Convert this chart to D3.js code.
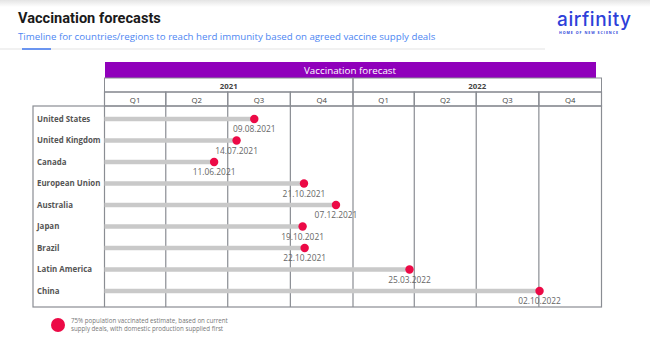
<!DOCTYPE html>
<html>
<head>
<meta charset="utf-8">
<script src="https://cdn.jsdelivr.net/npm/d3@7"></script>
<style>
  body { margin: 0; background: #fff; }
  svg { display: block; }
</style>
</head>
<body>
<div id="chart"></div>
<script>
const countries = ["United States", "United Kingdom", "Canada", "European Union",
  "Australia", "Japan", "Brazil", "Latin America", "China"];
const herdDates = ["09.08.2021", "14.07.2021", "11.06.2021", "21.10.2021",
  "07.12.2021", "19.10.2021", "22.10.2021", "25.03.2022", "02.10.2022"];
const years = ["2021", "2022"];
const quarters = ["Q1", "Q2", "Q3", "Q4"];

const W = 650, H = 343;
const parse = d3.timeParse("%d.%m.%Y");

const svg = d3.select("#chart").append("svg")
    .attr("width", W)
    .attr("height", H);

// top shadow
const defs = svg.append("defs");
const grad = defs.append("linearGradient").attr("id", "shade")
    .attr("x1", 0).attr("y1", 0).attr("x2", 0).attr("y2", 1);
grad.append("stop").attr("offset", 0).attr("stop-color", "#e4e4e4");
grad.append("stop").attr("offset", 1).attr("stop-color", "#fff");
svg.append("rect").attr("width", W).attr("height", 7).attr("fill", "url(#shade)");

// header
svg.append("text")
    .attr("x", 18).attr("y", 23)
    .style("font-family", "Roboto, 'Liberation Sans', sans-serif")
    .style("font-size", "14.6px").style("font-weight", "bold")
    .attr("fill", "#1a1a1a")
    .text("Vaccination forecasts");

svg.append("text")
    .attr("x", 18).attr("y", 40)
    .style("font-family", "'Open Sans', sans-serif")
    .style("font-size", "9.7px")
    .attr("fill", "#4d86f2")
    .text("Timeline for countries/regions to reach herd immunity based on agreed vaccine supply deals");

svg.append("line")
    .attr("x1", 0).attr("x2", 545).attr("y1", 49).attr("y2", 49)
    .attr("stroke", "#ececec").attr("stroke-width", 1.5);
svg.append("line")
    .attr("x1", 22).attr("x2", 51).attr("y1", 49).attr("y2", 49)
    .attr("stroke", "#6b95f0").attr("stroke-width", 2);

// logo
svg.append("text")
    .attr("x", 557).attr("y", 26)
    .style("font-family", "Inter, 'Open Sans', sans-serif")
    .style("font-size", "19px").style("font-weight", 500)
    .attr("fill", "#2d3fd9")
    .attr("textLength", 74)
    .text("airfinity");
svg.append("text")
    .attr("x", 559).attr("y", 34)
    .style("font-family", "'Open Sans', sans-serif")
    .style("font-size", "3.6px").style("font-weight", "bold")
    .attr("fill", "#2d3fd9")
    .attr("textLength", 59)
    .text("HOME OF NEW SCIENCE");

// scales
const x = d3.scaleTime()
    .domain([new Date(2021, 0, 1), new Date(2023, 0, 1)])
    .range([104.5, 601.5]);

const y = d3.scalePoint()
    .domain(countries)
    .range([119, 291]);

const qStarts = d3.timeMonth.every(3).range(new Date(2021, 0, 1), new Date(2023, 0, 1));
const yStarts = d3.timeYear.range(new Date(2021, 0, 1), new Date(2023, 0, 1));

const gridColor = "#8a8d93";
const headTop = 62, yearTop = 78, qTop = 92, bodyTop = 106, bodyBottom = 307;
const labelLeft = 33;

// purple banner
svg.append("rect")
    .attr("x", 105).attr("y", headTop)
    .attr("width", 596 - 105).attr("height", yearTop - headTop)
    .attr("fill", "#9000bb");
svg.append("text")
    .attr("x", 350).attr("y", 74)
    .attr("text-anchor", "middle")
    .style("font-family", "'Open Sans', sans-serif")
    .style("font-size", "9.8px")
    .attr("fill", "#fff")
    .text("Vaccination forecast");

// year row
svg.append("g").selectAll("rect")
  .data(yStarts)
  .join("rect")
    .attr("x", d => x(d))
    .attr("y", yearTop)
    .attr("width", d => x(d3.timeYear.offset(d, 1)) - x(d))
    .attr("height", qTop - yearTop)
    .attr("fill", "none")
    .attr("stroke", gridColor).attr("stroke-width", 1);

svg.append("g").selectAll("text")
  .data(yStarts)
  .join("text")
    .attr("x", d => (x(d) + x(d3.timeYear.offset(d, 1))) / 2)
    .attr("y", 88.5)
    .attr("text-anchor", "middle")
    .style("font-family", "'Open Sans', sans-serif")
    .style("font-size", "7.8px").style("font-weight", "bold")
    .attr("fill", "#444")
    .text((d, i) => years[i]);

// quarter row
svg.append("g").selectAll("rect")
  .data(qStarts)
  .join("rect")
    .attr("x", d => x(d))
    .attr("y", qTop)
    .attr("width", d => x(d3.timeMonth.offset(d, 3)) - x(d))
    .attr("height", bodyTop - qTop)
    .attr("fill", "none")
    .attr("stroke", gridColor).attr("stroke-width", 1.2);

svg.append("g").selectAll("text")
  .data(qStarts)
  .join("text")
    .attr("x", d => (x(d) + x(d3.timeMonth.offset(d, 3))) / 2)
    .attr("y", 102.5)
    .attr("text-anchor", "middle")
    .style("font-family", "'Open Sans', sans-serif")
    .style("font-size", "7.8px")
    .attr("fill", "#444")
    .text((d, i) => quarters[i % 4]);

// body frame + grid
svg.append("rect")
    .attr("x", labelLeft).attr("y", bodyTop)
    .attr("width", x.range()[1] - labelLeft).attr("height", bodyBottom - bodyTop)
    .attr("fill", "none")
    .attr("stroke", gridColor).attr("stroke-width", 1.2);

svg.append("g").selectAll("line")
  .data(qStarts)
  .join("line")
    .attr("x1", d => x(d)).attr("x2", d => x(d))
    .attr("y1", bodyTop).attr("y2", bodyBottom)
    .attr("stroke", gridColor).attr("stroke-width", 1.2);

// country labels
svg.append("g").selectAll("text")
  .data(countries)
  .join("text")
    .attr("x", 37)
    .attr("y", d => y(d) + 2.8)
    .style("font-family", "'Open Sans', sans-serif")
    .style("font-size", "7.9px").style("font-weight", "bold")
    .attr("fill", "#555")
    .text(d => d);

const rows = countries.map((c, i) => ({country: c, label: herdDates[i], date: parse(herdDates[i])}));

// bars
svg.append("g").selectAll("line")
  .data(rows)
  .join("line")
    .attr("x1", x.range()[0]).attr("x2", d => x(d.date))
    .attr("y1", d => y(d.country)).attr("y2", d => y(d.country))
    .attr("stroke", "#c9c9c9").attr("stroke-width", 4.5);

// date labels
svg.append("g").selectAll("text")
  .data(rows)
  .join("text")
    .attr("x", d => x(d.date))
    .attr("y", d => y(d.country) + 13.3)
    .attr("text-anchor", "middle")
    .style("font-family", "'Open Sans', sans-serif")
    .style("font-size", "8.4px")
    .attr("fill", "#666")
    .text(d => d.label);

// dots
svg.append("g").selectAll("circle")
  .data(rows)
  .join("circle")
    .attr("cx", d => x(d.date))
    .attr("cy", d => y(d.country))
    .attr("r", 4.2)
    .attr("fill", "#ec0a46");

// legend
svg.append("circle")
    .attr("cx", 58).attr("cy", 325).attr("r", 7)
    .attr("fill", "#ec0a46");
const leg = svg.append("text")
    .style("font-family", "'Open Sans', sans-serif")
    .style("font-size", "6.2px")
    .attr("fill", "#777");
leg.append("tspan").attr("x", 71).attr("y", 322.5)
    .text("75% population vaccinated estimate, based on current");
leg.append("tspan").attr("x", 71).attr("y", 331)
    .text("supply deals, with domestic production supplied first");
</script>
</body>
</html>
